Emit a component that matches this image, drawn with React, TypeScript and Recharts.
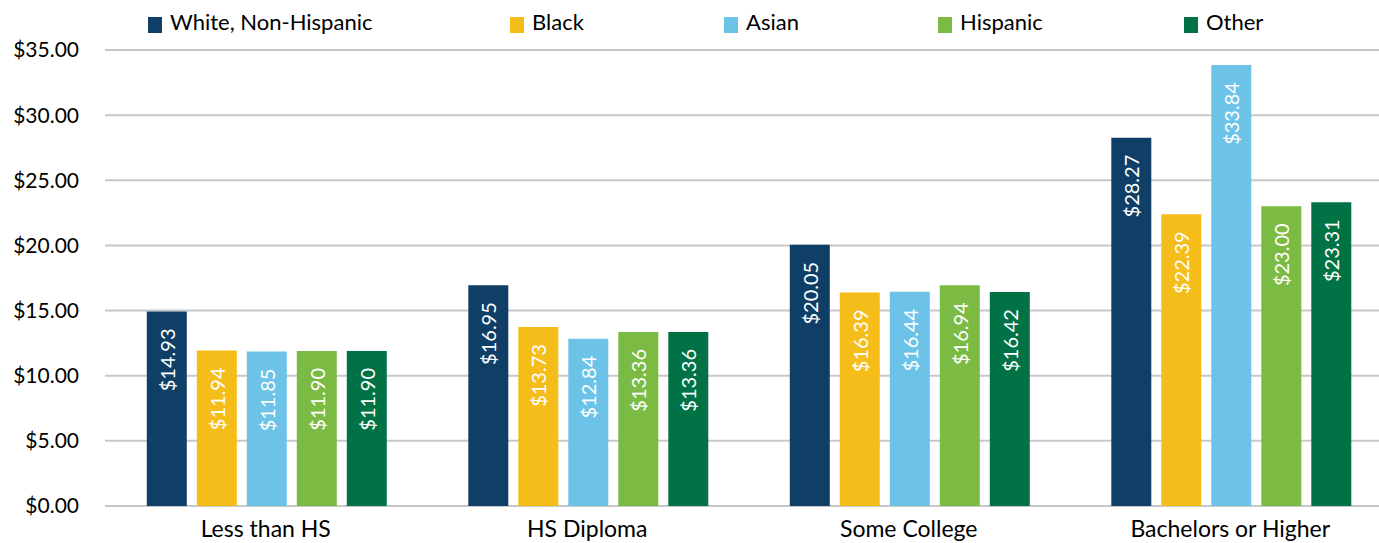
import React from "react";
import { BarChart, Bar, XAxis, YAxis, CartesianGrid, Legend, LabelList } from "recharts";

const categories = ["Less than HS", "HS Diploma", "Some College", "Bachelors or Higher"];
const whiteNH = [14.93, 16.95, 20.05, 28.27];
const black = [11.94, 13.73, 16.39, 22.39];
const asian = [11.85, 12.84, 16.44, 33.84];
const hispanic = [11.9, 13.36, 16.94, 23.0];
const other = [11.9, 13.36, 16.42, 23.31];
const yTicks = [0, 5, 10, 15, 20, 25, 30, 35];

const seriesList = [
  { key: "white", name: "White, Non-Hispanic", values: whiteNH, color: "#0f3f67" },
  { key: "black", name: "Black", values: black, color: "#f5bd1a" },
  { key: "asian", name: "Asian", values: asian, color: "#6cc3e7" },
  { key: "hispanic", name: "Hispanic", values: hispanic, color: "#7bbb43" },
  { key: "other", name: "Other", values: other, color: "#007246" },
];

const data = categories.map((c, i) => {
  const row: any = { category: c };
  seriesList.forEach((s) => {
    row[s.key] = s.values[i];
  });
  return row;
});

const FONT = "Lato, 'Open Sans', sans-serif";
const legendLefts = [148, 510, 724, 938, 1184];

const renderLegend = () => (
  <div style={{ position: "relative", height: 50, width: "100%" }}>
    {seriesList.map((s, i) => (
      <div key={s.key} style={{ position: "absolute", left: legendLefts[i], top: 0, height: 50 }}>
        <div
          style={{
            position: "absolute",
            left: 0,
            top: 17,
            width: 14,
            height: 16,
            background: s.color,
          }}
        />
        <div
          style={{
            position: "absolute",
            left: 22,
            top: 8,
            fontFamily: FONT,
            fontSize: 22,
            lineHeight: "28px",
            color: "#000",
            whiteSpace: "nowrap",
          }}
        >
          {s.name}
        </div>
      </div>
    ))}
  </div>
);

const renderLabel = (props: any) => {
  const { x, y, width, value } = props;
  const cx = Number(x) + Number(width) / 2;
  const ty = Number(y) + 17;
  return (
    <text
      x={cx}
      y={ty}
      transform={`rotate(-90 ${cx} ${ty})`}
      textAnchor="end"
      dominantBaseline="central"
      fill="#ffffff"
      fontSize={20}
      fontFamily={FONT}
    >
      {`$${Number(value).toFixed(2)}`}
    </text>
  );
};

export default function App() {
  return (
    <div
      style={{
        position: "absolute",
        left: 0,
        top: 0,
        width: 1379,
        height: 543,
        overflow: "hidden",
        background: "#fff",
        fontFamily: FONT,
      }}
    >
      <BarChart
        width={1391}
        height={543}
        data={data}
        margin={{ top: 0, right: 0, bottom: 0, left: 0 }}
        barCategoryGap="13%"
        barGap={10}
      >
        <Legend verticalAlign="top" height={50} content={renderLegend} />
        <CartesianGrid vertical={false} stroke="#c8c8c8" strokeWidth={2} />
        <XAxis
          dataKey="category"
          axisLine={false}
          tickLine={false}
          tickMargin={9}
          height={37}
          tick={{ fill: "#000", fontSize: 23, fontFamily: FONT }}
          interval={0}
        />
        <YAxis
          width={105}
          domain={[0, 35]}
          ticks={yTicks}
          axisLine={false}
          tickLine={false}
          tickMargin={20}
          tickFormatter={(v: number) => `$${v.toFixed(2)}`}
          tick={{ fill: "#000", fontSize: 21, fontFamily: FONT }}
        />
        {seriesList.map((s) => (
          <Bar key={s.key} dataKey={s.key} name={s.name} fill={s.color} isAnimationActive={false}>
            <LabelList dataKey={s.key} content={renderLabel} />
          </Bar>
        ))}
      </BarChart>
    </div>
  );
}
